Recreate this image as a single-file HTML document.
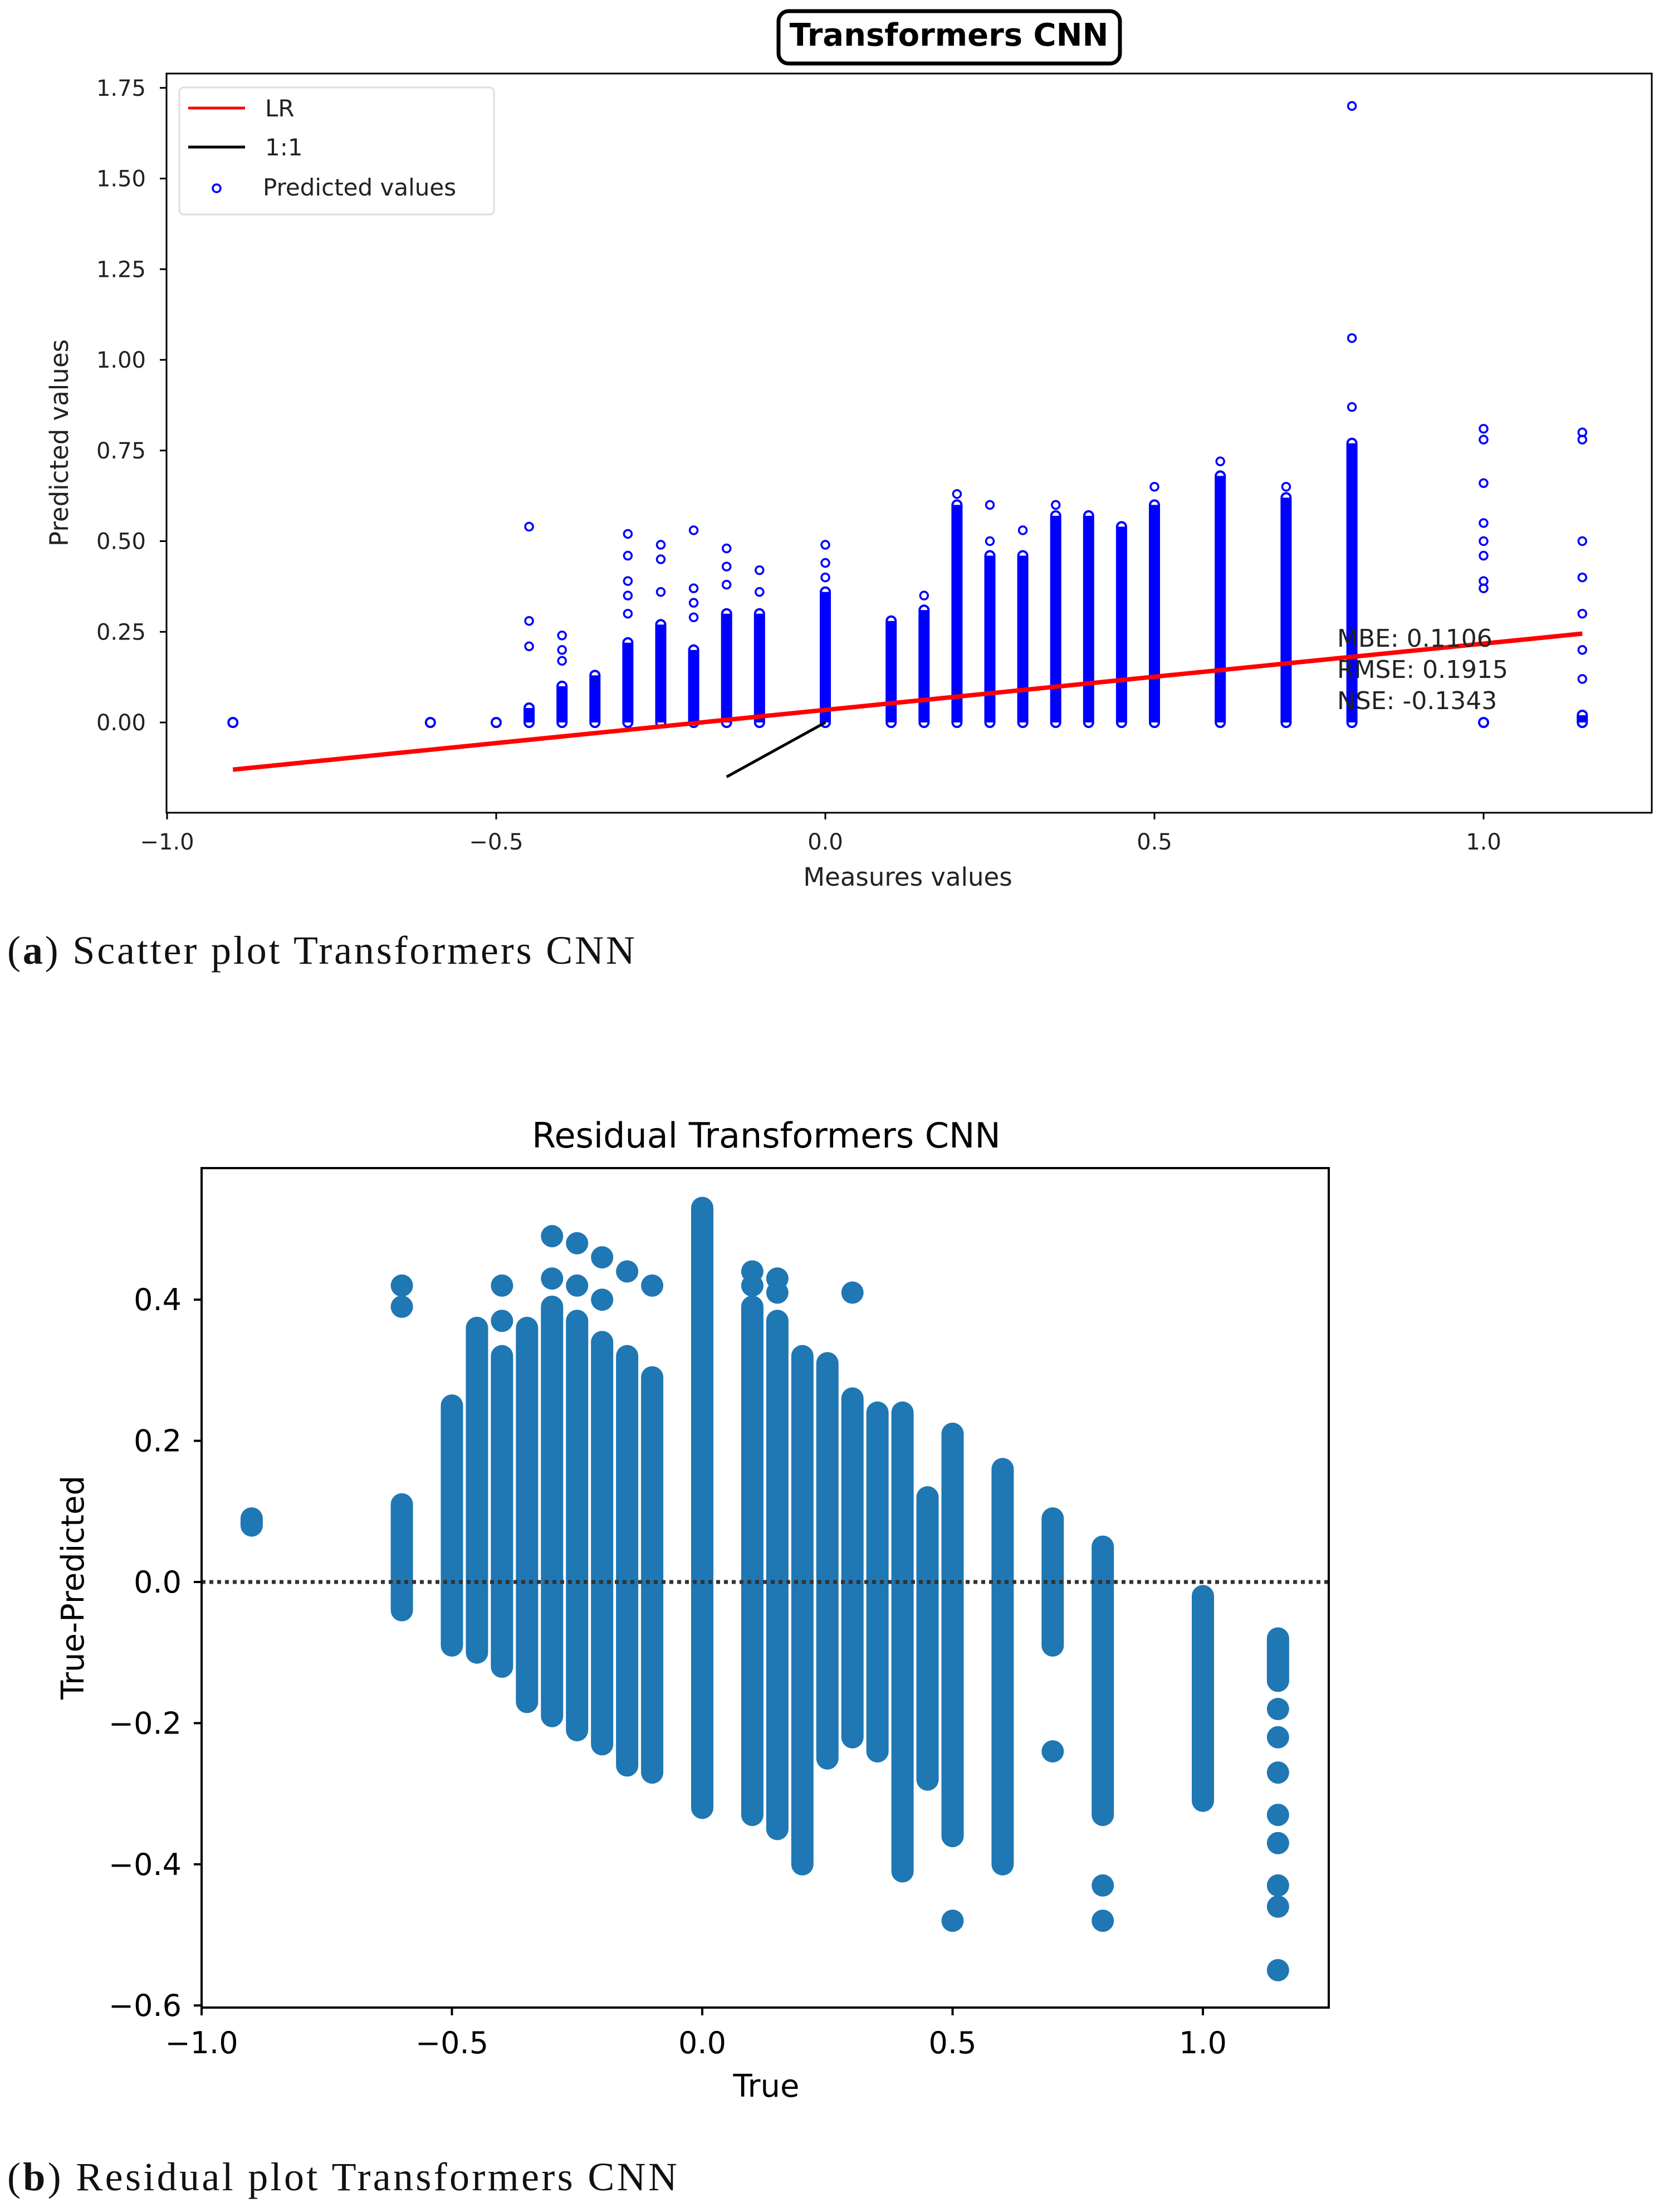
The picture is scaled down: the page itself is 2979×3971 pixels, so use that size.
<!DOCTYPE html>
<html><head><meta charset="utf-8"><style>
html,body{margin:0;padding:0;background:#fff;}
svg{display:block;font-family:"DejaVu Sans","Liberation Sans",sans-serif;}
</style></head><body>
<svg id="s" width="2979" height="3971" viewBox="0 0 2979 3971" xmlns="http://www.w3.org/2000/svg">
<g id="top"></g><g id="bot"></g>
</svg>
<script>
// ---------- Top chart data ----------
const topX = [-0.9,-0.6,-0.5,-0.45,-0.4,-0.35,-0.3,-0.25,-0.2,-0.15,-0.1,0.0,0.1,0.15,0.2,0.25,0.3,0.35,0.4,0.45,0.5,0.6,0.7,0.8,1.0,1.15];
const topMin = [0,0,0,0,0,0,0,0,0,0,0,0,0,0,0,0,0,0,0,0,0,0,0,0,0,0];
const topMax = [0,0,0,0.04,0.1,0.13,0.22,0.27,0.2,0.3,0.3,0.36,0.28,0.31,0.6,0.46,0.46,0.57,0.57,0.54,0.6,0.68,0.62,0.77,0,0.02];
const topOutX = [-0.45,-0.45,-0.45,-0.4,-0.4,-0.4,-0.3,-0.3,-0.3,-0.3,-0.3,-0.25,-0.25,-0.25,-0.2,-0.2,-0.2,-0.2,-0.15,-0.15,-0.15,-0.1,-0.1,0,0,0,0.15,0.2,0.25,0.25,0.3,0.35,0.5,0.6,0.7,0.8,0.8,0.8,1.0,1.0,1.0,1.0,1.0,1.0,1.0,1.0,1.15,1.15,1.15,1.15,1.15,1.15,1.15];
const topOutY = [0.21,0.28,0.54,0.17,0.2,0.24,0.3,0.35,0.39,0.46,0.52,0.36,0.45,0.49,0.29,0.33,0.37,0.53,0.38,0.43,0.48,0.36,0.42,0.4,0.44,0.49,0.35,0.63,0.5,0.6,0.53,0.6,0.65,0.72,0.65,0.87,1.06,1.70,0.37,0.39,0.46,0.5,0.55,0.66,0.78,0.81,0.12,0.2,0.3,0.4,0.5,0.78,0.8];
const topXTicks = [-1.0,-0.5,0.0,0.5,1.0];
const topXLabels = ["\u22121.0","\u22120.5","0.0","0.5","1.0"];
const topYTicks = [0,0.25,0.5,0.75,1.0,1.25,1.5,1.75];
const topYLabels = ["0.00","0.25","0.50","0.75","1.00","1.25","1.50","1.75"];
const lrX = [-0.9,1.15];
const lrY = [-0.13,0.245];
const oneX = [-0.15,0.0];
const oneY = [-0.15,0.0];
const stats = ["MBE: 0.1106","RMSE: 0.1915","NSE: -0.1343"];

// ---------- Bottom chart data ----------
const botX = [-0.9,-0.6,-0.5,-0.45,-0.4,-0.35,-0.3,-0.25,-0.2,-0.15,-0.1,0.0,0.1,0.15,0.2,0.25,0.3,0.35,0.4,0.45,0.5,0.6,0.7,0.8,1.0,1.15];
const botMin = [0.08,-0.04,-0.09,-0.1,-0.12,-0.17,-0.19,-0.21,-0.23,-0.26,-0.27,-0.32,-0.33,-0.35,-0.4,-0.25,-0.22,-0.24,-0.41,-0.28,-0.36,-0.4,-0.09,-0.33,-0.31,-0.14];
const botMax = [0.09,0.11,0.25,0.36,0.32,0.36,0.39,0.37,0.34,0.32,0.29,0.53,0.39,0.37,0.32,0.31,0.26,0.24,0.24,0.12,0.21,0.16,0.09,0.05,-0.02,-0.08];
const botOutX = [-0.6,-0.6,-0.4,-0.4,-0.3,-0.3,-0.25,-0.25,-0.2,-0.2,-0.15,-0.1,0.1,0.1,0.15,0.15,0.3,0.5,0.7,0.8,0.8,1.15,1.15,1.15,1.15,1.15,1.15,1.15,1.15];
const botOutY = [0.39,0.42,0.37,0.42,0.43,0.49,0.42,0.48,0.40,0.46,0.44,0.42,0.42,0.44,0.41,0.43,0.41,-0.48,-0.24,-0.43,-0.48,-0.55,-0.46,-0.43,-0.37,-0.33,-0.27,-0.22,-0.18];
const botXTicks = [-1.0,-0.5,0.0,0.5,1.0];
const botXLabels = ["\u22121.0","\u22120.5","0.0","0.5","1.0"];
const botYTicks = [-0.6,-0.4,-0.2,0.0,0.2,0.4];
const botYLabels = ["\u22120.6","\u22120.4","\u22120.2","0.0","0.2","0.4"];

const NS="http://www.w3.org/2000/svg";
function mk(parent,tag,attrs,text){const e=document.createElementNS(NS,tag);for(const k in attrs)e.setAttribute(k,attrs[k]);if(text!==undefined)e.textContent=text;parent.appendChild(e);return e;}

// ---------- Top chart ----------
const T=document.getElementById('top');
const tx=v=>1482+v*1182, ty=v=>1297-v*651;
let e;
e=mk(T,'rect',{x:1398,y:20,width:613,height:94,rx:18,fill:'#fff',stroke:'#000','stroke-width':7});


e=mk(T,'text',{x:1704,y:82,'text-anchor':'middle','font-size':56,'font-weight':'bold'},'Transformers CNN');


for(let i=0;i<topX.length;i++){
  const h=Math.max(0,ty(topMin[i])-ty(topMax[i]));
  e=mk(T,'rect',{x:tx(topX[i])-8,y:ty(topMax[i])-8,width:16,height:h+16,rx:8,fill:'none',stroke:'#0000ff','stroke-width':4});
  
  
  if(h>10){e=mk(T,'rect',{x:tx(topX[i])-8,y:ty(topMax[i]),width:16,height:h,fill:'#0000ff'});
  
  }
}
for(let i=0;i<topOutX.length;i++){
  e=mk(T,'circle',{cx:tx(topOutX[i]),cy:ty(topOutY[i]),r:7,fill:'none',stroke:'#0000ff','stroke-width':3.5});
  
  
}
e=mk(T,'line',{x1:tx(lrX[0]),y1:ty(lrY[0]),x2:tx(lrX[1]),y2:ty(lrY[1]),stroke:'#ff0000','stroke-width':8});


e=mk(T,'line',{x1:tx(oneX[0]),y1:ty(oneY[0]),x2:tx(oneX[1]),y2:ty(oneY[1]),stroke:'#000','stroke-width':5});


for(let i=0;i<stats.length;i++){
  e=mk(T,'text',{x:2401,y:1161+i*56,'font-size':44,fill:'#222'},stats[i]);
  
  
}
e=mk(T,'rect',{x:299,y:132,width:2667,height:1327,fill:'none',stroke:'#000','stroke-width':3});


for(let i=0;i<topXTicks.length;i++){
  const x=tx(topXTicks[i]);
  mk(T,'line',{x1:x,y1:1459,x2:x,y2:1471,stroke:'#000','stroke-width':3});
  e=mk(T,'text',{x:x,y:1525,'text-anchor':'middle','font-size':40,fill:'#222'},topXLabels[i]);
  
  
}
for(let i=0;i<topYTicks.length;i++){
  const y=ty(topYTicks[i]);
  mk(T,'line',{x1:287,y1:y,x2:299,y2:y,stroke:'#000','stroke-width':3});
  e=mk(T,'text',{x:262,y:y+14,'text-anchor':'end','font-size':40,fill:'#222'},topYLabels[i]);
  
  
}
e=mk(T,'text',{x:1630,y:1590,'text-anchor':'middle','font-size':45,fill:'#222'},'Measures values');


e=mk(T,'text',{x:122,y:795,'text-anchor':'middle','font-size':45,fill:'#222',transform:'rotate(-90 122 795)'},'Predicted values');


// legend
e=mk(T,'rect',{x:322,y:157,width:565,height:228,rx:8,fill:'#fff',stroke:'#ddd','stroke-width':3});


mk(T,'line',{x1:338,y1:194,x2:440,y2:194,stroke:'#ff0000','stroke-width':5});
e=mk(T,'text',{x:476,y:209,'font-size':42,fill:'#222'},'LR');


mk(T,'line',{x1:338,y1:264,x2:440,y2:264,stroke:'#000','stroke-width':5});
e=mk(T,'text',{x:476,y:279,'font-size':42,fill:'#222'},'1:1');


mk(T,'circle',{cx:389,cy:338,r:7,fill:'none',stroke:'#0000ff','stroke-width':3.5});
e=mk(T,'text',{x:472,y:351,'font-size':42,fill:'#222'},'Predicted values');


e=mk(T,'text',{x:13,y:1730,'font-size':72,'font-family':'Liberation Serif, serif',fill:'#111',textLength:1127,lengthAdjust:'spacing'},'');


e.innerHTML='(<tspan font-weight="bold">a</tspan>) Scatter plot Transformers CNN';

// ---------- Bottom chart ----------
const B=document.getElementById('bot');
const bx=v=>1261+v*899, by=v=>2840-v*1267;
e=mk(B,'text',{x:1376,y:2060,'text-anchor':'middle','font-size':62},'Residual Transformers CNN');


for(let i=0;i<botX.length;i++){
  const h=Math.max(0,by(botMin[i])-by(botMax[i]));
  e=mk(B,'rect',{x:bx(botX[i])-20,y:by(botMax[i])-20,width:40,height:h+40,rx:20,fill:'#1f77b4'});
  
  
}
for(let i=0;i<botOutX.length;i++){
  e=mk(B,'circle',{cx:bx(botOutX[i]),cy:by(botOutY[i]),r:20,fill:'#1f77b4'});
  
  
}
e=mk(B,'line',{x1:362,y1:by(0),x2:2386,y2:by(0),stroke:'#333','stroke-width':7,'stroke-dasharray':'7 7'});


e=mk(B,'rect',{x:362,y:2097,width:2024,height:1507,fill:'none',stroke:'#000','stroke-width':4});


for(let i=0;i<botXTicks.length;i++){
  const x=bx(botXTicks[i]);
  mk(B,'line',{x1:x,y1:3604,x2:x,y2:3618,stroke:'#000','stroke-width':4});
  e=mk(B,'text',{x:x,y:3686,'text-anchor':'middle','font-size':54},botXLabels[i]);
  
  
}
for(let i=0;i<botYTicks.length;i++){
  const y=by(botYTicks[i]);
  mk(B,'line',{x1:348,y1:y,x2:362,y2:y,stroke:'#000','stroke-width':4});
  e=mk(B,'text',{x:326,y:y+19,'text-anchor':'end','font-size':54},botYLabels[i]);
  
  
}
e=mk(B,'text',{x:1376,y:3764,'text-anchor':'middle','font-size':56},'True');


e=mk(B,'text',{x:150,y:2850,'text-anchor':'middle','font-size':56,transform:'rotate(-90 150 2850)'},'True-Predicted');


e=mk(B,'text',{x:13,y:3932,'font-size':72,'font-family':'Liberation Serif, serif',fill:'#111',textLength:1203,lengthAdjust:'spacing'},'');


e.innerHTML='(<tspan font-weight="bold">b</tspan>) Residual plot Transformers CNN';
</script>
</body></html>
